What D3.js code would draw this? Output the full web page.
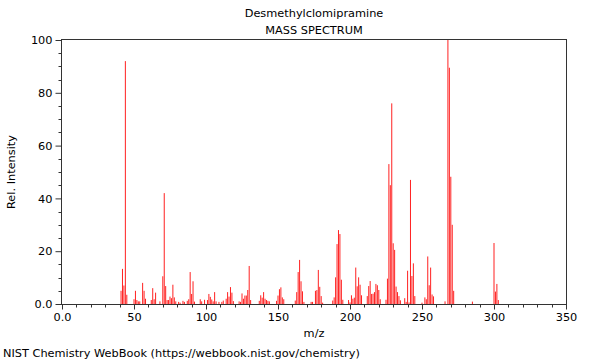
<!DOCTYPE html>
<html>
<head>
<meta charset="utf-8">
<script src="https://cdn.jsdelivr.net/npm/d3@7"></script>
<style>
  html, body { margin: 0; padding: 0; background: #fff; }
  svg { display: block; }
  text { font-family: "DejaVu Sans", sans-serif; }
</style>
</head>
<body>
<svg id="chart" width="600" height="360"></svg>
<script>
// ---- data ----
const title = "Desmethylclomipramine";
const subtitle = "MASS SPECTRUM";
const xLabel = "m/z";
const yLabel = "Rel. Intensity";
const footer = "NIST Chemistry WebBook (https://webbook.nist.gov/chemistry)";

const mzValues = [
  41, 42, 43, 44, 45,
  50, 51, 52, 53, 54, 56, 57, 58,
  62, 63, 64, 65, 68, 70, 71, 72, 73, 74, 75, 76, 77, 78, 79, 81,
  82, 84, 85, 87, 88, 89, 90, 91, 92,
  96, 97, 99, 101, 102, 103, 104, 105, 106, 107, 109, 111, 112, 114, 115, 116, 117, 118, 119,
  123, 124, 125, 126, 127, 128, 129, 130, 131,
  137, 138, 139, 140, 141, 142, 143, 144,
  149, 150, 151, 152, 153, 154,
  162, 163, 164, 165, 166, 167, 168,
  173, 174, 176, 177, 178, 179, 180, 181,
  188, 189, 190, 191, 192, 193, 194, 195,
  199, 200, 201, 202, 203, 204, 205, 206, 207, 208,
  212, 213, 214, 215, 216, 217, 218, 219, 220, 221,
  225, 226, 227, 228, 229, 230, 231, 232, 233, 234, 235,
  238, 239, 240, 241, 242, 243, 244, 245,
  250, 252, 253, 254, 255, 256, 257, 258,
  266, 268, 269, 270, 271, 272,
  285,
  300, 301, 302, 303
];
const intensityValues = [
  5, 13.3, 7, 92, 3.5,
  1.8, 5, 1.5, 1, 1, 8, 5, 2,
  1.5, 6, 1.8, 4.3, 1, 10.5, 42, 6.8, 1.5, 1.5, 2.8, 2.2, 7.3, 2.5, 1, 0.8,
  0.5, 1.2, 0.8, 1.2, 1.8, 12.1, 3.8, 8.6, 0.9,
  1.8, 1, 1.6, 1.5, 3.8, 2.7, 1.7, 1, 4.5, 1, 0.8, 0.8, 1.3, 2, 4.5, 2.8, 6.4, 4.3, 1.1,
  1, 0.8, 4, 2, 3.2, 3.2, 5.3, 14.4, 1.5,
  1.2, 3.3, 2.4, 4.5, 2, 1.5, 1.2, 1,
  1.2, 3.2, 5.6, 6.3, 2.5, 1.8,
  1.3, 4.5, 12.1, 16.7, 8.6, 4.8, 0.8,
  0.8, 0.8, 5, 5.3, 12.9, 6.5, 3, 0.5,
  1.3, 2.5, 10.1, 22.7, 28, 26.5, 9.2, 1.6,
  1.5, 0.6, 3.3, 2, 2.4, 13.8, 6.7, 10.1, 7.3, 3.3,
  3, 6.8, 8.7, 3.8, 3.9, 4.5, 7.6, 7.1, 5.3, 1.8,
  1.6, 9.6, 53, 45, 76, 23, 20.5, 6.6, 4.5, 3, 1.4,
  2.2, 0.8, 12.6, 0.6, 47, 10.6, 15.4, 3,
  0.5, 2.5, 1.8, 18, 7.1, 13.8, 3.6, 2.9,
  1, 100, 89.5, 48.2, 30, 5,
  0.9,
  23.1, 4.7, 7.6, 1.5
];
const xTickValues = [0, 50, 100, 150, 200, 250, 300, 350];
const xTickLabels = ["0.0", "50", "100", "150", "200", "250", "300", "350"];
const yTickValues = [0, 20, 40, 60, 80, 100];
const yTickLabels = ["0.0", "20", "40", "60", "80", "100"];
const xDomain = [0, 350];
const yDomain = [0, 100];

// ---- layout ----
const svg = d3.select("#chart");
const m = { left: 62, right: 566, top: 40, bottom: 304 };
const x = d3.scaleLinear().domain(xDomain).range([m.left, m.right]);
const y = d3.scaleLinear().domain(yDomain).range([m.bottom, m.top]);
const fs = 11.33;

const peaks = mzValues.map((mz, i) => ({ mz, v: intensityValues[i] }));

// peaks
svg.append("g")
  .selectAll("line")
  .data(peaks)
  .join("line")
  .attr("x1", d => x(d.mz))
  .attr("x2", d => x(d.mz))
  .attr("y1", y(0))
  .attr("y2", d => y(d.v))
  .attr("stroke", "#ff2020")
  .attr("stroke-width", 1);

// frame
svg.append("rect")
  .attr("x", m.left - 0.5)
  .attr("y", m.top - 0.5)
  .attr("width", m.right - m.left + 1)
  .attr("height", m.bottom - m.top + 1)
  .attr("fill", "none")
  .attr("stroke", "#333")
  .attr("stroke-width", 1);

// x axis
const xAxis = d3.axisBottom(x)
  .tickValues(xTickValues)
  .tickFormat((d, i) => xTickLabels[i])
  .tickSize(5)
  .tickPadding(3);
const gx = svg.append("g")
  .attr("transform", `translate(0,${m.bottom + 0.5})`)
  .call(xAxis);
gx.select(".domain").remove();
gx.selectAll(".tick line").attr("stroke", "#333");
gx.selectAll("text").attr("font-size", fs).attr("fill", "#000").attr("font-family", "DejaVu Sans, sans-serif");

const xMinor = d3.range(xDomain[0], xDomain[1] + 1, 10).filter(v => v % 50 !== 0);
svg.append("g").selectAll("line").data(xMinor).join("line")
  .attr("x1", d => Math.round(x(d)) + 0.5).attr("x2", d => Math.round(x(d)) + 0.5)
  .attr("y1", m.bottom + 0.5).attr("y2", m.bottom + 3.5)
  .attr("stroke", "#333");

// y axis
const yAxis = d3.axisLeft(y)
  .tickValues(yTickValues)
  .tickFormat((d, i) => yTickLabels[i])
  .tickSize(6)
  .tickPadding(3);
const gy = svg.append("g")
  .attr("transform", `translate(${m.left - 0.5},0)`)
  .call(yAxis);
gy.select(".domain").remove();
gy.selectAll(".tick line").attr("stroke", "#333");
gy.selectAll("text").attr("font-size", fs).attr("fill", "#000").attr("font-family", "DejaVu Sans, sans-serif");

const yMinor = d3.range(yDomain[0], yDomain[1] + 1, 5).filter(v => v % 20 !== 0);
svg.append("g").selectAll("line").data(yMinor).join("line")
  .attr("y1", d => Math.round(y(d)) + 0.5).attr("y2", d => Math.round(y(d)) + 0.5)
  .attr("x1", m.left - 0.5).attr("x2", m.left - 3.5)
  .attr("stroke", "#333");

// titles
const cx = (m.left + m.right) / 2;
svg.append("text").attr("x", cx).attr("y", 17).attr("text-anchor", "middle")
  .attr("font-size", fs).text(title);
svg.append("text").attr("x", cx).attr("y", 34).attr("text-anchor", "middle")
  .attr("font-size", fs).text(subtitle);
svg.append("text").attr("x", cx).attr("y", 337).attr("text-anchor", "middle")
  .attr("font-size", fs).text(xLabel);
svg.append("text")
  .attr("transform", `translate(15,${(m.top + m.bottom) / 2}) rotate(-90)`)
  .attr("text-anchor", "middle").attr("font-size", fs).text(yLabel);
svg.append("text").attr("x", 3).attr("y", 357).attr("font-size", fs).text(footer);
</script>
</body>
</html>
